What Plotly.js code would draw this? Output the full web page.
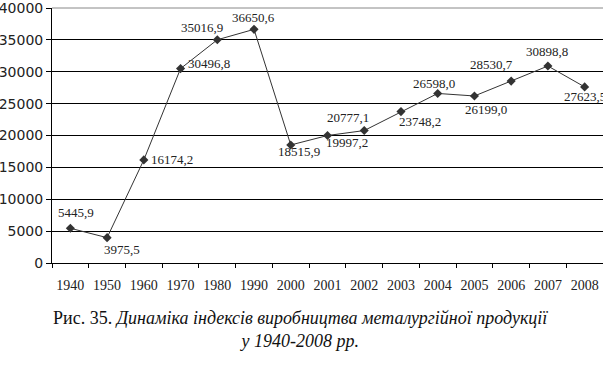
<!DOCTYPE html>
<html><head><meta charset="utf-8">
<script src="https://cdn.plot.ly/plotly-3.0.1.min.js"></script>
<style>html,body{margin:0;padding:0;background:#fff}#chart{width:603px;height:366px}</style>
</head><body><div id="chart"></div>
<script>
const years = ['1940','1950','1960','1970','1980','1990','2000','2001','2002','2003','2004','2005','2006','2007','2008'];
const values = [5445.9,3975.5,16174.2,30496.8,35016.9,36650.6,18515.9,19997.2,20777.1,23748.2,26598.0,26199.0,28530.7,30898.8,27623.5];
const yTicks = [0,5000,10000,15000,20000,25000,30000,35000,40000];
const captionLine1Plain = 'Рис. 35.';
const captionLine1Italic = 'Динаміка індексів виробництва металургійної продукції';
const captionLine2Italic = 'у 1940-2008 рр.';

// label offsets (screen px: dx right, dy down) - styling only
const labelOffsets = [[6,-16],[15,12],[28,0],[28,-5],[-15,-12],[-1,-12],[8,7],[19,7],[-16,-13],[19,10],[-4,-10],[12,14],[-20,-17],[-1,-15],[0,10]];

const fmt = v => v.toFixed(1).replace('.', ',');

const annotations = years.map((y,i)=>({
  x: i, y: values[i], xref:'x', yref:'y', text: fmt(values[i]), showarrow:false,
  xanchor:'center', yanchor:'middle',
  xshift: labelOffsets[i][0], yshift: -labelOffsets[i][1],
  font:{family:'Liberation Serif', size:13, color:'#222'}
}));
annotations.push({
  xref:'paper', yref:'paper', x:(300-52)/551, y:-0.17, xanchor:'center', yanchor:'top', showarrow:false,
  align:'center',
  text: captionLine1Plain + ' <i>' + captionLine1Italic + '</i><br><i>' + captionLine2Italic + '</i>',
  font:{family:'Liberation Serif', size:18, color:'#111'}
});

const trace = {
  x: years, y: values, type:'scatter', mode:'lines+markers',
  line:{color:'#333', width:1},
  marker:{symbol:'diamond', size:7, color:'#333'},
  cliponaxis:false, hoverinfo:'none'
};

const layout = {
  width:603, height:366,
  margin:{l:52, r:0, t:8, b:103},
  paper_bgcolor:'#fff', plot_bgcolor:'#fff',
  showlegend:false,
  xaxis:{type:'category', range:[-0.5,14.5], tickson:'boundaries', ticks:'outside', ticklen:4, tickcolor:'#000',
    tickangle:0, showline:true, linecolor:'#000', linewidth:1, showgrid:false, zeroline:false,
    tickfont:{family:'Liberation Serif', size:14, color:'#222'}, ticklabelstandoff:9},
  yaxis:{range:[0,40000], tickvals:yTicks, tickformat:'d', ticks:'outside', ticklen:5, tickcolor:'#000',
    ticklabeloverflow:'allow',
    showline:true, linecolor:'#000', linewidth:1, gridcolor:'#000', gridwidth:1, zeroline:false,
    tickfont:{family:'DejaVu Sans', size:14, color:'#222'}},
  shapes:[{type:'line', xref:'paper', yref:'paper', x0:0, x1:1, y0:1, y1:1, line:{color:'#888', width:1}, layer:'above'}],
  annotations: annotations
};
Plotly.newPlot('chart', [trace], layout, {displayModeBar:false, staticPlot:true});
</script></body></html>
